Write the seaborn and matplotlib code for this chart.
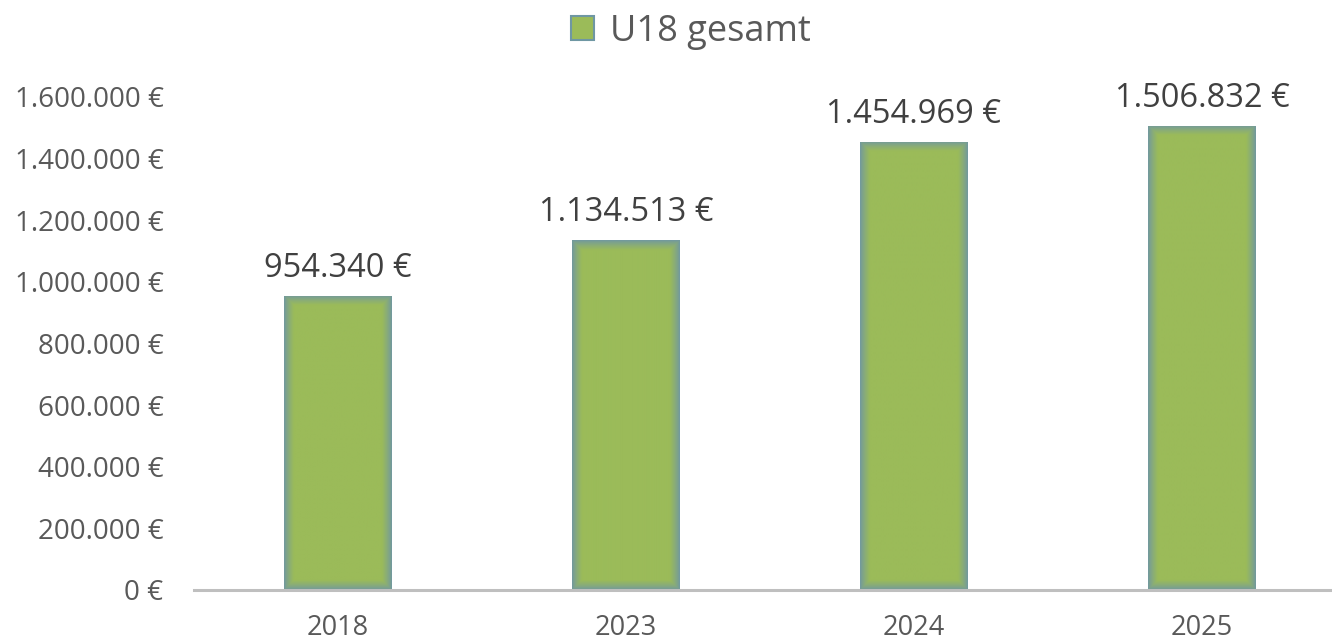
import matplotlib
matplotlib.use("Agg")
import matplotlib.pyplot as plt
import seaborn as sns
import pandas as pd
import numpy as np
from matplotlib.ticker import FuncFormatter
from matplotlib.patches import Patch
from matplotlib.colors import to_rgb

years = ["2018", "2023", "2024", "2025"]
values = [954340, 1134513, 1454969, 1506832]
series_name = "U18 gesamt"
yticks = [0, 200000, 400000, 600000, 800000, 1000000, 1200000, 1400000, 1600000]

def de_fmt(v):
    return f"{int(round(v)):,}".replace(",", ".") + " €"

sns.set_theme(style="white")
plt.rcParams['font.family'] = ['Open Sans', 'DejaVu Sans']

df = pd.DataFrame({"Jahr": years, "Wert": values, "Serie": series_name})

fig = plt.figure(figsize=(13.32, 6.44), dpi=100)
ax = fig.add_axes([194/1332, 54/644, 1152/1332, 493/644])

green = "#9bbb59"
edge = "#6f97a3"
sns.barplot(data=df, x="Jahr", y="Wert", hue="Serie", palette=[green],
            width=0.372, ax=ax, legend=False, linewidth=0)

ax.set_ylim(0, 1600000)
ax.set_xlim(-0.5, 3.5)

# soft bluish edge gradient inside each bar (clipped to the bar patch)
fig.canvas.draw()
c_in = np.array(to_rgb(green))
c_out = np.array(to_rgb(edge))
for p in ax.patches:
    bb = p.get_window_extent()
    w = max(int(round(bb.width)), 2)
    h = max(int(round(bb.height)), 2)
    xx = np.arange(w) + 0.5
    yy = np.arange(h) + 0.5
    dx = np.minimum(xx, w - xx)[None, :]
    dy = np.minimum(yy, h - yy)[:, None]
    d = np.minimum(dx, dy)
    t = np.clip(d / 10.0, 0, 1) ** 0.8
    img = c_out[None, None, :] * (1 - t[..., None]) + c_in[None, None, :] * t[..., None]
    x0, y0 = p.get_x(), p.get_y()
    im = ax.imshow(img, extent=(x0, x0 + p.get_width(), y0, y0 + p.get_height()),
                   aspect="auto", origin="lower", zorder=p.get_zorder() + 0.1,
                   interpolation="bilinear")
    im.set_clip_path(p)
ax.set_xlim(-0.5, 3.5)
ax.set_ylim(0, 1600000)

ax.set_yticks(yticks)
ax.yaxis.set_major_formatter(FuncFormatter(lambda v, p: de_fmt(v)))
ax.set_xlabel("")
ax.set_ylabel("")
for s in ["top", "right", "left"]:
    ax.spines[s].set_visible(False)
ax.spines["bottom"].set_color("#bfbfbf")
ax.spines["bottom"].set_linewidth(2.2)
ax.spines["bottom"].set_zorder(5)
ax.tick_params(axis="y", length=0, pad=22, labelsize=20, labelcolor="#595959")
ax.tick_params(axis="x", length=0, pad=17, labelsize=19.5, labelcolor="#595959")

for i, v in enumerate(values):
    ax.annotate(de_fmt(v), (i, v), xytext=(0, 8), textcoords="offset points",
                ha="center", va="bottom", fontsize=23.5, color="#404040")

handles = [Patch(facecolor=green, edgecolor=edge, linewidth=1.5, label=series_name)]
fig.legend(handles=handles, loc="center", bbox_to_anchor=(691/1332, 1 - 32/644),
           frameon=False, fontsize=26, labelcolor="#595959",
           handlelength=0.65, handleheight=0.65, handletextpad=0.45)

fig.savefig("out.png", dpi=100)
